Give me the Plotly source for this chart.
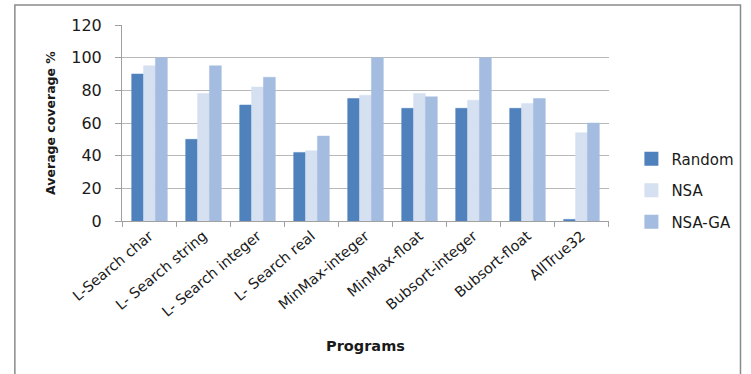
import plotly.graph_objects as go

programs = ["L-Search char", "L- Search string", "L- Search integer", "L- Search real",
            "MinMax-integer", "MinMax-float", "Bubsort-integer", "Bubsort-float", "AllTrue32"]
random_vals = [90, 50, 71, 42, 75, 69, 69, 69, 1]
nsa_vals = [95, 78, 82, 43, 77, 78, 74, 72, 54]
nsaga_vals = [100, 95, 88, 52, 100, 76, 100, 75, 60]

series = [("Random", random_vals, "#4f81bd"),
          ("NSA", nsa_vals, "#d5e0f0"),
          ("NSA-GA", nsaga_vals, "#a3bce0")]

fig = go.Figure()
for name, vals, col in series:
    fig.add_trace(go.Bar(x=programs, y=vals, name=name, marker_color=col,
                         legendgroup=name,
                         marker_line=dict(color=col, width=0.5)))

font = "DejaVu Sans, sans-serif"
fig.update_layout(
    width=751, height=374,
    margin=dict(l=122, r=129, t=25, b=153),
    paper_bgcolor="white", plot_bgcolor="white",
    barmode="group", bargap=0.34, bargroupgap=0,
    font=dict(family=font, color="#1a1a1a", size=15),
    showlegend=True,
    legend=dict(x=1.046, y=0.40, xanchor="left", yanchor="top",
                font=dict(size=15, color="#1a1a1a"), tracegroupgap=9,
                itemsizing="constant", bgcolor="rgba(0,0,0,0)"),
    xaxis=dict(
        tickangle=-40, tickfont=dict(size=14.5),
        showline=True, linecolor="#a0a0a0", linewidth=1,
        ticks="", showgrid=False,
        title=dict(text="<b>Programs</b>", font=dict(size=14.5), standoff=22),
    ),
    yaxis=dict(
        range=[0, 120], dtick=20, tickfont=dict(size=16),
        showline=True, linecolor="#a0a0a0", linewidth=1,
        ticks="outside", ticklen=6, tickcolor="#a0a0a0",
        ticklabelstandoff=10,
        showgrid=True, gridcolor="#b8b8b8", gridwidth=1,
        zeroline=False,
        title=dict(text="<b>Average coverage %</b>", font=dict(size=12.5), standoff=12),
    ),
)

# category divider ticks below x axis
for i in range(len(programs) + 1):
    fig.add_shape(type="line", xref="x", yref="paper",
                  x0=i - 0.5, x1=i - 0.5, y0=0, y1=-0.03,
                  line=dict(color="#a0a0a0", width=1))

# outer chart frame
fig.add_shape(type="rect", xref="paper", yref="paper",
              x0=-0.22, x1=1.27, y0=1.102, y1=-0.8,
              line=dict(color="#8a8a8a", width=1.5), layer="below")

fig.write_html("out.html")
